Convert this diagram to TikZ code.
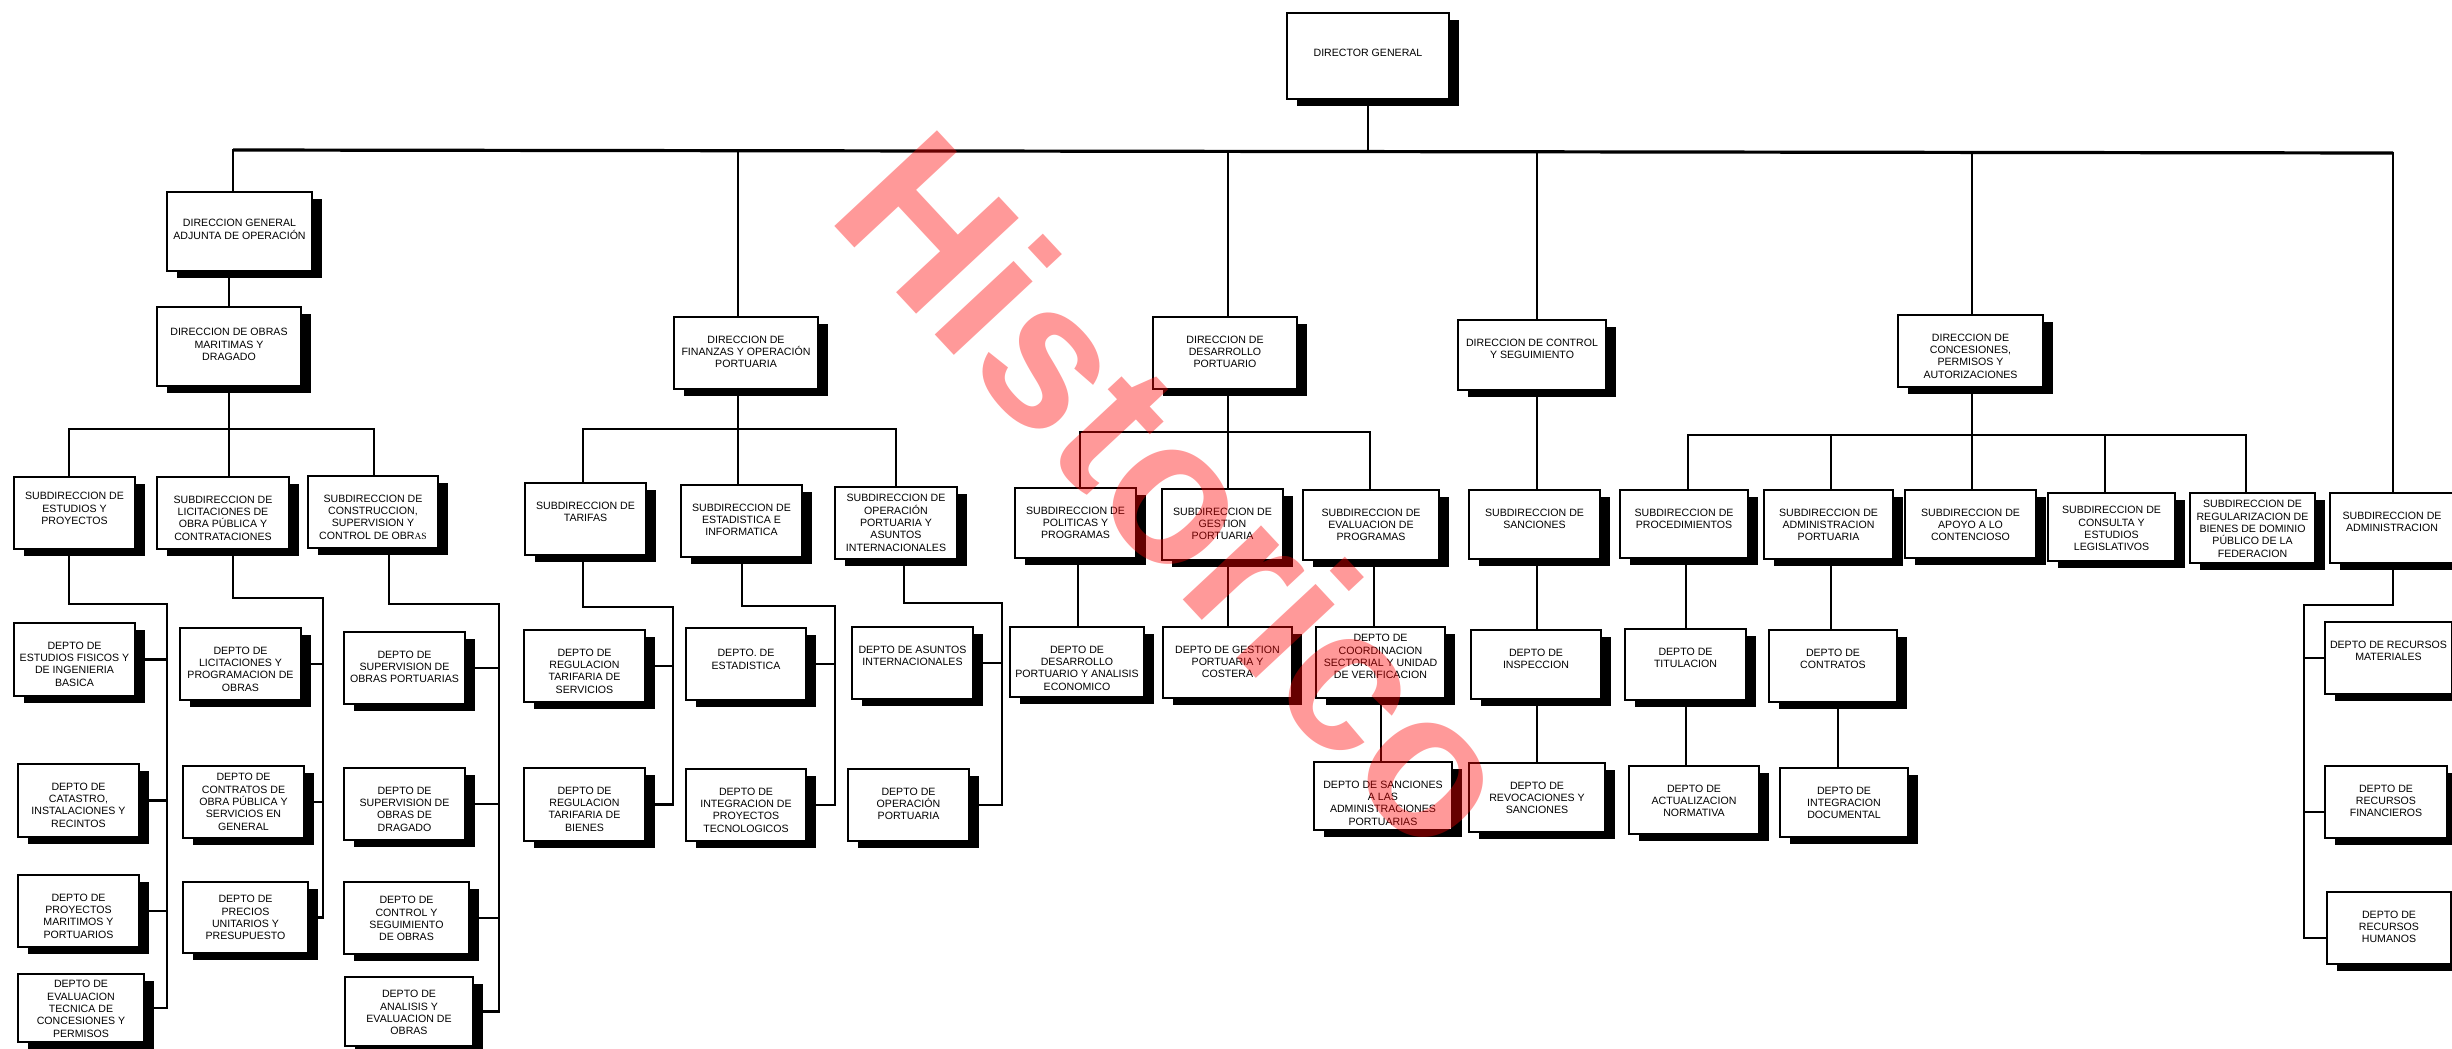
\documentclass[tikz,border=0pt]{standalone}
\usepackage{fontspec}
\setmainfont{Liberation Sans}
\newfontfamily\serifas{Liberation Serif}
\pgfdeclarelayer{back}
\pgfdeclarelayer{wires}
\pgfsetlayers{back,wires,main}
\tikzset{
  bx/.style={draw=black, line width=2.4pt, fill=white, inner sep=0pt, outer sep=0pt},
  shd/.style={fill=black},
  tx/.style={align=center, inner sep=0pt, font=\fontsize{10.6}{12.3}\selectfont},
  wire/.style={line width=2.3pt, line cap=rect},
  bus/.style={line width=3.2pt},
  wm/.style={text=red, text opacity=0.4, rotate=-47, inner sep=0pt, font=\fontsize{204}{204}\selectfont\bfseries}
}
% #1 first-line offset from top, #2 name, #3 x1, #4 y1, #5 x2, #6 y2, #7 text
\newcommand\ob[7][22.5]{%
  \fill[shd] ({#3+10},{#4+7}) rectangle ({#5+10},{#6+7});
  \node[bx, minimum width={(#5-#3)*1pt}, minimum height={(#6-#4)*1pt}] (#2) at ({(#3+#5)/2},{(#4+#6)/2}) {};
  \node[tx, anchor=north] (#2-t) at ({(#3+#5)/2},{#4+#1-3.8}) {#7};}
\begin{document}
\begin{tikzpicture}[x=1pt,y=-1pt]
\begin{pgfonlayer}{back}
\fill[white] (0,0) rectangle (2452,1049);
\end{pgfonlayer}
\useasboundingbox (0,0) rectangle (2452,1049);

% top
\ob[40]{dg}{1287}{13}{1449}{99}{DIRECTOR GENERAL}

% group A
\ob[31]{dgao}{167}{192}{312}{271}{DIRECCION GENERAL\\ADJUNTA DE OPERACIÓN}
\ob[25]{domd}{157}{307}{301}{386}{DIRECCION DE OBRAS\\MARITIMAS Y\\DRAGADO}
\ob[19]{subest}{14}{477}{135}{549}{SUBDIRECCION DE\\ESTUDIOS Y\\PROYECTOS}
\ob{sublic}{157}{477}{289}{549}{SUBDIRECCION DE\\LICITACIONES DE\\OBRA PÚBLICA Y\\CONTRATACIONES}
\ob{subcons}{308}{476}{438}{548}{SUBDIRECCION DE\\CONSTRUCCION,\\SUPERVISION Y\\CONTROL DE OBR{\serifas\fontsize{9.5}{12}\selectfont AS}}
\ob{estfis}{14}{623}{135}{696}{DEPTO DE\\ESTUDIOS FISICOS Y\\DE INGENIERIA\\BASICA}
\ob{catastro}{18}{764}{139}{837}{DEPTO DE\\CATASTRO,\\INSTALACIONES Y\\RECINTOS}
\ob{proymar}{18}{875}{139}{947}{DEPTO DE\\PROYECTOS\\MARITIMOS Y\\PORTUARIOS}
\ob[10]{evaltec}{18}{974}{144}{1042}{DEPTO DE\\EVALUACION\\TECNICA DE\\CONCESIONES Y\\PERMISOS}
\ob{licprog}{180}{628}{301}{700}{DEPTO DE\\LICITACIONES Y\\PROGRAMACION DE\\OBRAS}
\ob[11]{contobra}{183}{766}{304}{838}{DEPTO DE\\CONTRATOS DE\\OBRA PÚBLICA Y\\SERVICIOS EN\\GENERAL}
\ob[17]{precios}{183}{882}{308}{953}{DEPTO DE\\PRECIOS\\UNITARIOS Y\\PRESUPUESTO}
\ob{support}{344}{632}{465}{704}{DEPTO DE\\SUPERVISION DE\\OBRAS PORTUARIAS}
\ob{supdrag}{344}{768}{465}{840}{DEPTO DE\\SUPERVISION DE\\OBRAS DE\\DRAGADO}
\ob[18]{control}{344}{882}{469}{954}{DEPTO DE\\CONTROL Y\\SEGUIMIENTO\\DE OBRAS}
\ob[17]{analisis}{345}{977}{473}{1046}{DEPTO DE\\ANALISIS Y\\EVALUACION DE\\OBRAS}

% group B
\ob{dfop}{674}{317}{818}{389}{DIRECCION DE\\FINANZAS Y OPERACIÓN\\PORTUARIA}
\ob{subtar}{525}{483}{646}{555}{SUBDIRECCION DE\\TARIFAS}
\ob{subesti}{681}{485}{802}{557}{SUBDIRECCION DE\\ESTADISTICA E\\INFORMATICA}
\ob[11]{subopai}{835}{487}{957}{559}{SUBDIRECCION DE\\OPERACIÓN\\PORTUARIA Y\\ASUNTOS\\INTERNACIONALES}
\ob{regser}{524}{630}{645}{702}{DEPTO DE\\REGULACION\\TARIFARIA DE\\SERVICIOS}
\ob{regbie}{524}{768}{645}{841}{DEPTO DE\\REGULACION\\TARIFARIA DE\\BIENES}
\ob[25]{depest}{686}{628}{806}{700}{DEPTO. DE\\ESTADISTICA}
\ob{intproy}{686}{769}{806}{841}{DEPTO DE\\INTEGRACION DE\\PROYECTOS\\TECNOLOGICOS}
\ob{asuint}{852}{627}{973}{699}{DEPTO DE ASUNTOS\\INTERNACIONALES}
\ob{opport}{848}{769}{969}{841}{DEPTO DE\\OPERACIÓN\\PORTUARIA}

% group C
\ob{ddp}{1153}{317}{1297}{389}{DIRECCION DE\\DESARROLLO\\PORTUARIO}
\ob{subpol}{1015}{488}{1136}{558}{SUBDIRECCION DE\\POLITICAS Y\\PROGRAMAS}
\ob{subges}{1162}{489}{1283}{560}{SUBDIRECCION DE\\GESTION\\PORTUARIA}
\ob{subeva}{1303}{490}{1439}{560}{SUBDIRECCION DE\\EVALUACION DE\\PROGRAMAS}
\ob{depdes}{1010}{627}{1144}{697}{DEPTO DE\\DESARROLLO\\PORTUARIO Y ANALISIS\\ECONOMICO}
\ob{depges}{1163}{627}{1292}{698}{DEPTO DE GESTION\\PORTUARIA Y\\COSTERA}
\ob[11]{depcoo}{1316}{627}{1445}{698}{DEPTO DE\\COORDINACION\\SECTORIAL Y UNIDAD\\DE VERIFICACION}
\ob{depsan}{1314}{762}{1452}{830}{DEPTO DE SANCIONES\\A LAS\\ADMINISTRACIONES\\PORTUARIAS}

% group D
\ob{dcs}{1458}{320}{1606}{390}{DIRECCION DE CONTROL\\Y SEGUIMIENTO}
\ob{subsan}{1469}{490}{1600}{559}{SUBDIRECCION DE\\SANCIONES}
\ob{depins}{1471}{630}{1601}{699}{DEPTO DE\\INSPECCION}
\ob{deprev}{1469}{763}{1605}{832}{DEPTO DE\\REVOCACIONES Y\\SANCIONES}

% group E
\ob{dcpa}{1898}{315}{2043}{387}{DIRECCION DE\\CONCESIONES,\\PERMISOS Y\\AUTORIZACIONES}
\ob{subpro}{1620}{490}{1748}{558}{SUBDIRECCION DE\\PROCEDIMIENTOS}
\ob{subadp}{1764}{490}{1893}{559}{SUBDIRECCION DE\\ADMINISTRACION\\PORTUARIA}
\ob{subapo}{1905}{490}{2036}{558}{SUBDIRECCION DE\\APOYO A LO\\CONTENCIOSO}
\ob[17]{subcon}{2048}{493}{2175}{561}{SUBDIRECCION DE\\CONSULTA Y\\ESTUDIOS\\LEGISLATIVOS}
\ob[11]{subreg}{2190}{493}{2315}{563}{SUBDIRECCION DE\\REGULARIZACION DE\\BIENES DE DOMINIO\\PÚBLICO DE LA\\FEDERACION}
\ob{deptit}{1625}{629}{1746}{700}{DEPTO DE\\TITULACION}
\ob{depctr}{1769}{630}{1897}{702}{DEPTO DE\\CONTRATOS}
\ob{depact}{1629}{766}{1759}{834}{DEPTO DE\\ACTUALIZACION\\NORMATIVA}
\ob{depint}{1780}{768}{1908}{837}{DEPTO DE\\INTEGRACION\\DOCUMENTAL}

% group F
\ob{subadm}{2330}{493}{2454}{563}{SUBDIRECCION DE\\ADMINISTRACION}
\ob{recmat}{2325}{622}{2452}{694}{DEPTO DE RECURSOS\\MATERIALES}
\ob{recfin}{2325}{766}{2447}{838}{DEPTO DE\\RECURSOS\\FINANCIEROS}
\ob{rechum}{2327}{892}{2451}{964}{DEPTO DE\\RECURSOS\\HUMANOS}

\begin{pgfonlayer}{wires}
% main bus
\coordinate (mL) at (233,150);
\coordinate (mB) at (738,151);
\coordinate (mC) at (1228,151);
\coordinate (mD) at (1537,152);
\coordinate (mE) at (1972,152);
\coordinate (mR) at (2393,153);
\draw[bus] (mL) -- (mR);
\draw[wire] (dg.south) -- (dg.south |- mL);
\draw[wire] (mL) -- (mL |- dgao.north);
\draw[wire] (mB) -- (mB |- dfop.north);
\draw[wire] (mC) -- (mC |- ddp.north);
\draw[wire] (mD) -- (mD |- dcs.north);
\draw[wire] (mE) -- (mE |- dcpa.north);
\draw[wire] (mR) -- (mR |- subadm.north);

% group A
\draw[wire] (domd.north) -- (domd.north |- dgao.south);
\coordinate (aL) at (69,429);
\coordinate (aR) at (374,429);
\draw[wire] (aL) -- (aR);
\draw[wire] (domd.south) -- (domd.south |- sublic.north);
\draw[wire] (aL) -- (aL |- subest.north);
\draw[wire] (aR) -- (aR |- subcons.north);
\coordinate (a1) at (69,604);
\coordinate (a1b) at (167,604);
\draw[wire] (a1 |- subest.south) -- (a1) -- (a1b) -- (a1b |- evaltec.east);
\foreach \n in {estfis,catastro,proymar,evaltec} \draw[wire] (\n.east) -- (\n.east -| a1b);
\coordinate (a2) at (233,598);
\coordinate (a2b) at (323,598);
\draw[wire] (a2 |- sublic.south) -- (a2) -- (a2b) -- (a2b |- precios.east);
\foreach \n in {licprog,contobra,precios} \draw[wire] (\n.east) -- (\n.east -| a2b);
\coordinate (a3) at (389,604);
\coordinate (a3b) at (499,604);
\draw[wire] (a3 |- subcons.south) -- (a3) -- (a3b) -- (a3b |- analisis.east);
\foreach \n in {support,supdrag,control,analisis} \draw[wire] (\n.east) -- (\n.east -| a3b);

% group B
\coordinate (bL) at (583,429);
\coordinate (bR) at (896,429);
\draw[wire] (mB |- dfop.south) -- (mB |- subesti.north);
\draw[wire] (bL) -- (bR);
\draw[wire] (bL) -- (bL |- subtar.north);
\draw[wire] (bR) -- (bR |- subopai.north);
\coordinate (b1) at (583,607);
\coordinate (b1b) at (673,607);
\draw[wire] (b1 |- subtar.south) -- (b1) -- (b1b) -- (b1b |- regbie.east);
\foreach \n in {regser,regbie} \draw[wire] (\n.east) -- (\n.east -| b1b);
\coordinate (b2) at (742,606);
\coordinate (b2b) at (835,606);
\draw[wire] (b2 |- subesti.south) -- (b2) -- (b2b) -- (b2b |- intproy.east);
\foreach \n in {depest,intproy} \draw[wire] (\n.east) -- (\n.east -| b2b);
\coordinate (b3) at (904,603);
\coordinate (b3b) at (1002,603);
\draw[wire] (b3 |- subopai.south) -- (b3) -- (b3b) -- (b3b |- opport.east);
\foreach \n in {asuint,opport} \draw[wire] (\n.east) -- (\n.east -| b3b);

% group C
\coordinate (cL) at (1080,432);
\coordinate (cR) at (1370,432);
\draw[wire] (mC |- ddp.south) -- (mC |- subges.north);
\draw[wire] (cL) -- (cR);
\draw[wire] (cL) -- (cL |- subpol.north);
\draw[wire] (cR) -- (cR |- subeva.north);
\coordinate (c1) at (1078,600);
\draw[wire] (c1 |- subpol.south) -- (c1 |- depdes.north);
\draw[wire] (mC |- subges.south) -- (mC |- depges.north);
\coordinate (c3) at (1374,600);
\draw[wire] (c3 |- subeva.south) -- (c3 |- depcoo.north);
\coordinate (c4) at (1381,730);
\draw[wire] (c4 |- depcoo.south) -- (c4 |- depsan.north);

% group D
\draw[wire] (mD |- dcs.south) -- (mD |- subsan.north);
\draw[wire] (mD |- subsan.south) -- (mD |- depins.north);
\draw[wire] (mD |- depins.south) -- (mD |- deprev.north);

% group E
\coordinate (eL) at (1688,435);
\coordinate (e2) at (1831,435);
\coordinate (e4) at (2105,435);
\coordinate (eR) at (2246,435);
\draw[wire] (mE |- dcpa.south) -- (mE |- subapo.north);
\draw[wire] (eL) -- (eR);
\draw[wire] (eL) -- (eL |- subpro.north);
\draw[wire] (e2) -- (e2 |- subadp.north);
\draw[wire] (e4) -- (e4 |- subcon.north);
\draw[wire] (eR) -- (eR |- subreg.north);
\coordinate (e1) at (1686,600);
\draw[wire] (e1 |- subpro.south) -- (e1 |- deptit.north);
\draw[wire] (e1 |- deptit.south) -- (e1 |- depact.north);
\coordinate (e5) at (1831,600);
\coordinate (e6) at (1838,740);
\draw[wire] (e5 |- subadp.south) -- (e5 |- depctr.north);
\draw[wire] (e6 |- depctr.south) -- (e6 |- depint.north);

% group F
\coordinate (f1) at (2393,605);
\coordinate (f1b) at (2304,605);
\draw[wire] (mR |- subadm.south) -- (f1) -- (f1b) -- ([yshift=-10pt]f1b |- rechum.west);
\draw[wire] (recmat.west) -- (recmat.west -| f1b);
\draw[wire] ([yshift=-10pt]recfin.west) -- ([yshift=-10pt]recfin.west -| f1b);
\draw[wire] ([yshift=-10pt]rechum.west) -- ([yshift=-10pt]rechum.west -| f1b);
\end{pgfonlayer}

% watermark
\node[wm] (wm) at (1180,490) {Historico};
\end{tikzpicture}
\end{document}
